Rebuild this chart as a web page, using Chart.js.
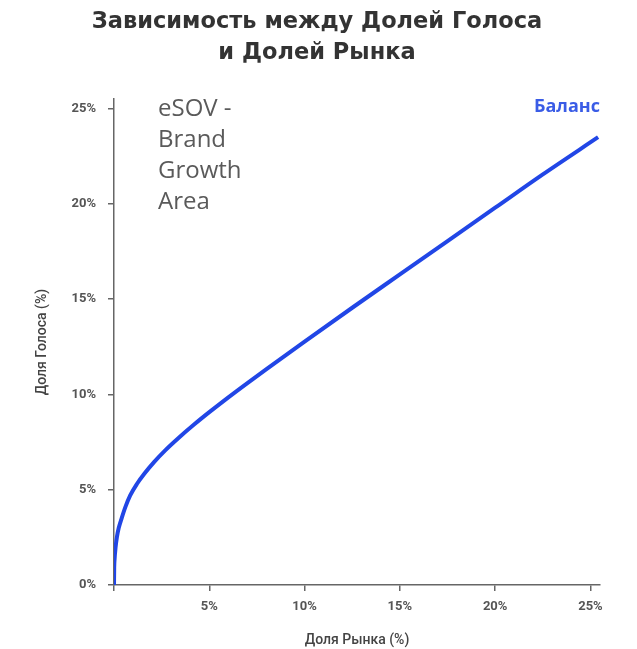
<!DOCTYPE html>
<html><head><meta charset="utf-8">
<script src="https://cdn.jsdelivr.net/npm/chart.js@4"></script>
<style>html,body{margin:0;padding:0;background:#fff;}#wrap{width:637px;height:649px;}</style>
</head><body><div id="wrap"><canvas id="c"></canvas></div>
<script>
const titleLines = ['Зависимость между Долей Голоса', 'и Долей Рынка'];
const xTitle = 'Доля Рынка (%)';
const yTitle = 'Доля Голоса (%)';
const seriesName = 'Баланс';
const noteLines = ['eSOV -', 'Brand', 'Growth', 'Area'];
const marketShare = [0, 0.01, 0.03, 0.08, 0.15, 0.25, 0.4, 0.6, 0.85, 1.2, 1.6, 2.1, 2.7, 3.4, 4.2, 5, 6, 7, 8, 10, 12.5, 15, 17.5, 20, 22.5, 25.4];
const voiceShare  = [0, 0.9, 1.35, 1.95, 2.5, 3.0, 3.5, 4.1, 4.7, 5.3, 5.85, 6.45, 7.08, 7.73, 8.42, 9.07, 9.85, 10.6, 11.33, 12.77, 14.55, 16.3, 18.05, 19.8, 21.55, 23.5];
const tickValues = [0, 5, 10, 15, 20, 25];

const points = marketShare.map((x, i) => ({x: x, y: voiceShare[i]}));

const notePlugin = {
  id: 'notes',
  afterDatasetsDraw(chart) {
    const ctx = chart.ctx, a = chart.chartArea;
    ctx.save();
    ctx.font = '400 24px "Open Sans"';
    ctx.fillStyle = '#5a5a5a';
    ctx.textAlign = 'left';
    ctx.textBaseline = 'middle';
    noteLines.forEach((t, i) => ctx.fillText(t, a.left + 44, a.top + 10 + i * 31));
    ctx.font = 'bold 18px "Open Sans"';
    ctx.fillStyle = '#3a5ce6';
    ctx.textAlign = 'right';
    ctx.fillText(seriesName, a.right, a.top + 8);
    ctx.restore();
  }
};

const axisColor = '#666';
const tickFont = {family: 'Roboto', size: 13, weight: 'bold'};
const axisTitleFont = {family: 'Roboto', size: 14, weight: '500'};
function filterTicks(scale) {
  scale.ticks = tickValues.map(v => ({value: v}));
}

new Chart(document.getElementById('c'), {
  type: 'line',
  data: {datasets: [{
    label: seriesName,
    data: points,
    borderColor: '#2146e6',
    borderWidth: 4,
    pointRadius: 0,
    cubicInterpolationMode: 'monotone',
    fill: false
  }]},
  options: {
    responsive: true,
    maintainAspectRatio: false,
    animation: false,
    layout: {padding: {left: 34, right: 37, top: 0, bottom: 0}},
    plugins: {
      legend: {display: false},
      tooltip: {enabled: false},
      title: {
        display: true,
        text: titleLines,
        color: '#333',
        font: {family: 'DejaVu Sans', size: 22.5, weight: 'bold', lineHeight: 1.38},
        padding: {top: 7, bottom: 30}
      }
    },
    scales: {
      x: {
        type: 'linear', min: 0, max: 25.5,
        afterBuildTicks: filterTicks,
        afterFit(s) { s.height = 64; },
        grid: {drawOnChartArea: false, drawTicks: true, tickLength: 6, color: axisColor, lineWidth: 1.5},
        border: {color: axisColor, width: 1.5},
        ticks: {color: '#555', font: tickFont, padding: 8, maxRotation: 0,
          callback: v => v === 0 ? '' : v + '%'},
        title: {display: true, text: xTitle, color: '#444', font: axisTitleFont, padding: {top: 8, bottom: 0}}
      },
      y: {
        type: 'linear', min: 0, max: 25.5,
        afterBuildTicks: filterTicks,
        afterFit(s) { s.width = 80; },
        grid: {drawOnChartArea: false, drawTicks: true, tickLength: 6, color: axisColor, lineWidth: 1.5},
        border: {color: axisColor, width: 1.5},
        ticks: {color: '#555', font: tickFont, padding: 12, callback: v => v + '%'},
        title: {display: true, text: yTitle, color: '#444', font: axisTitleFont, padding: {top: 0, bottom: 0}}
      }
    }
  },
  plugins: [notePlugin]
});
</script>
</body></html>
